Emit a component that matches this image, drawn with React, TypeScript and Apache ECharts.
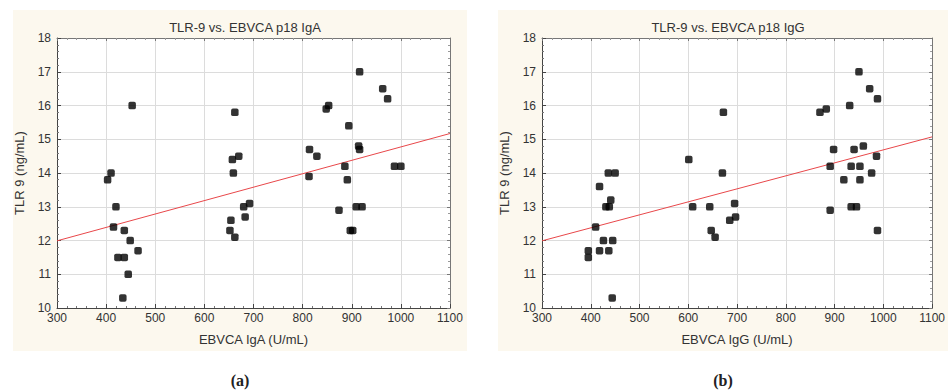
import React, { useEffect, useRef } from "react";
import * as echarts from "echarts";

const titles = ["TLR-9 vs. EBVCA p18 IgA", "TLR-9 vs. EBVCA p18 IgG"];
const xNames = ["EBVCA IgA (U/mL)", "EBVCA IgG (U/mL)"];
const yName = "TLR 9 (ng/mL)";
const panelLabels = ["(a)", "(b)"];

const igaX = [403, 410, 453, 420, 415, 437, 449, 465, 424, 437, 445, 434,
  662, 657, 670, 659, 654, 652, 662, 680, 692, 683,
  814, 829, 813, 848, 853, 894, 886, 891, 916, 914, 916, 963, 973, 987, 1000, 874, 909, 921, 897, 902];
const igaY = [13.8, 14.0, 16.0, 13.0, 12.4, 12.3, 12.0, 11.7, 11.5, 11.5, 11.0, 10.3,
  15.8, 14.4, 14.5, 14.0, 12.6, 12.3, 12.1, 13.0, 13.1, 12.7,
  14.7, 14.5, 13.9, 15.9, 16.0, 15.4, 14.2, 13.8, 17.0, 14.8, 14.7, 16.5, 16.2, 14.2, 14.2, 12.9, 13.0, 13.0, 12.3, 12.3];

const iggX = [395, 395, 410, 418, 418, 426, 431, 438, 436, 450, 441, 437, 445, 444,
  601, 609, 644, 647, 655, 670, 672, 685, 695, 697,
  870, 883, 931, 950, 972, 988, 898, 891, 940, 959, 986, 934, 952, 976, 919, 952, 891, 934, 945, 988];
const iggY = [11.7, 11.5, 12.4, 13.6, 11.7, 12.0, 13.0, 13.0, 14.0, 14.0, 13.2, 11.7, 12.0, 10.3,
  14.4, 13.0, 13.0, 12.3, 12.1, 14.0, 15.8, 12.6, 13.1, 12.7,
  15.8, 15.9, 16.0, 17.0, 16.5, 16.2, 14.7, 14.2, 14.7, 14.8, 14.5, 14.2, 14.2, 14.0, 13.8, 13.8, 12.9, 13.0, 13.0, 12.3];

// regression lines (x, y at the plot edges)
const fitIgA = [[300, 11.99], [1100, 15.17]];
const fitIgG = [[300, 11.99], [1100, 15.07]];

const FONT = "'Liberation Sans', Arial, sans-serif";
const TXT = "#333";

function zip(xs: number[], ys: number[]) {
  return xs.map((x, i) => [x, ys[i]]);
}

export default function App() {
  const ref = useRef<HTMLDivElement>(null);
  useEffect(() => {
    if (!ref.current) return;
    const chart = echarts.init(ref.current, undefined, { renderer: "svg" });
    const grids = [
      { left: 57, top: 38, width: 393, height: 270 },
      { left: 542, top: 38, width: 394, height: 270 },
    ];
    const xAxes: any[] = [];
    const yAxes: any[] = [];
    [0, 1].forEach((g) => {
      xAxes.push({
        gridIndex: g, type: "value", min: 300, max: 1100, interval: 100, position: "bottom",
        name: xNames[g], nameLocation: "middle", nameGap: 25,
        nameTextStyle: { fontFamily: FONT, fontSize: 13, color: TXT },
        axisLine: { show: true, onZero: false, lineStyle: { color: "#444", width: 1 } },
        axisTick: { show: true, inside: true, length: 4, lineStyle: { color: "#444" } },
        minorTick: { show: true, splitNumber: 5, length: 2, lineStyle: { color: "#777" } },
        axisLabel: { fontFamily: FONT, fontSize: 12, color: TXT, margin: 4, formatter: (v: number) => String(v) },
        splitLine: { show: true, lineStyle: { color: "#dcdcdc", width: 1 } },
      });
      xAxes.push({
        gridIndex: g, type: "value", min: 300, max: 1100, interval: 100, position: "top",
        axisLine: { show: true, onZero: false, lineStyle: { color: "#777", width: 1 } },
        axisTick: { show: true, inside: true, length: 3, lineStyle: { color: "#777" } },
        minorTick: { show: true, splitNumber: 5, length: 2, lineStyle: { color: "#999" } },
        axisLabel: { show: false },
        splitLine: { show: false },
      });
      yAxes.push({
        gridIndex: g, type: "value", min: 10, max: 18, interval: 1, position: "left",
        name: yName, nameLocation: "middle", nameGap: 31, nameRotate: 90,
        nameTextStyle: { fontFamily: FONT, fontSize: 13, color: TXT },
        axisLine: { show: true, onZero: false, lineStyle: { color: "#444", width: 1 } },
        axisTick: { show: true, inside: true, length: 4, lineStyle: { color: "#444" } },
        minorTick: { show: true, splitNumber: 5, length: 2, lineStyle: { color: "#777" } },
        axisLabel: { fontFamily: FONT, fontSize: 12, color: TXT, margin: 6 },
        splitLine: { show: true, lineStyle: { color: "#dcdcdc", width: 1 } },
      });
      yAxes.push({
        gridIndex: g, type: "value", min: 10, max: 18, interval: 1, position: "right",
        axisLine: { show: true, onZero: false, lineStyle: { color: "#777", width: 1 } },
        axisTick: { show: true, inside: true, length: 3, lineStyle: { color: "#777" } },
        minorTick: { show: true, splitNumber: 5, length: 2, lineStyle: { color: "#999" } },
        axisLabel: { show: false },
        splitLine: { show: false },
      });
    });
    const datasets = [zip(igaX, igaY), zip(iggX, iggY)];
    const fits = [fitIgA, fitIgG];
    const series: any[] = [];
    [0, 1].forEach((g) => {
      series.push({
        type: "line", xAxisIndex: g * 2, yAxisIndex: g * 2, data: fits[g],
        showSymbol: false, symbol: "none", lineStyle: { color: "#e8474a", width: 1 }, z: 2, silent: true,
      });
      series.push({
        type: "scatter", xAxisIndex: g * 2, yAxisIndex: g * 2, data: datasets[g],
        symbol: "roundRect", symbolSize: 7.5, itemStyle: { color: "#000" }, z: 3,
      });
    });
    chart.setOption({
      animation: false,
      backgroundColor: "#fff",
      title: [0, 1].map((g) => ({
        text: titles[g], left: g === 0 ? 240 : 723, top: 16, textAlign: "center",
        textStyle: { fontFamily: FONT, fontSize: 13, fontWeight: "normal", color: TXT },
      })),
      graphic: [
        { type: "rect", shape: { x: 13, y: 10, width: 454, height: 341 }, style: { fill: "#fcf8ee" }, z: -10 },
        { type: "rect", shape: { x: 498, y: 10, width: 450, height: 341 }, style: { fill: "#fcf8ee" }, z: -10 },
        { type: "text", x: 240, y: 380, style: { text: panelLabels[0], font: "bold 16px 'Liberation Serif', serif", fill: "#222", textAlign: "center", textVerticalAlign: "middle" } },
        { type: "text", x: 723, y: 380, style: { text: panelLabels[1], font: "bold 16px 'Liberation Serif', serif", fill: "#222", textAlign: "center", textVerticalAlign: "middle" } },
      ],
      grid: grids.map((g) => ({ ...g, show: true, backgroundColor: "#fff", borderWidth: 0, containLabel: false })),
      xAxis: xAxes,
      yAxis: yAxes,
      series,
    });
    return () => chart.dispose();
  }, []);
  return (
    <div ref={ref} style={{ position: "fixed", left: 0, top: 0, width: 948, height: 391 }} />
  );
}
